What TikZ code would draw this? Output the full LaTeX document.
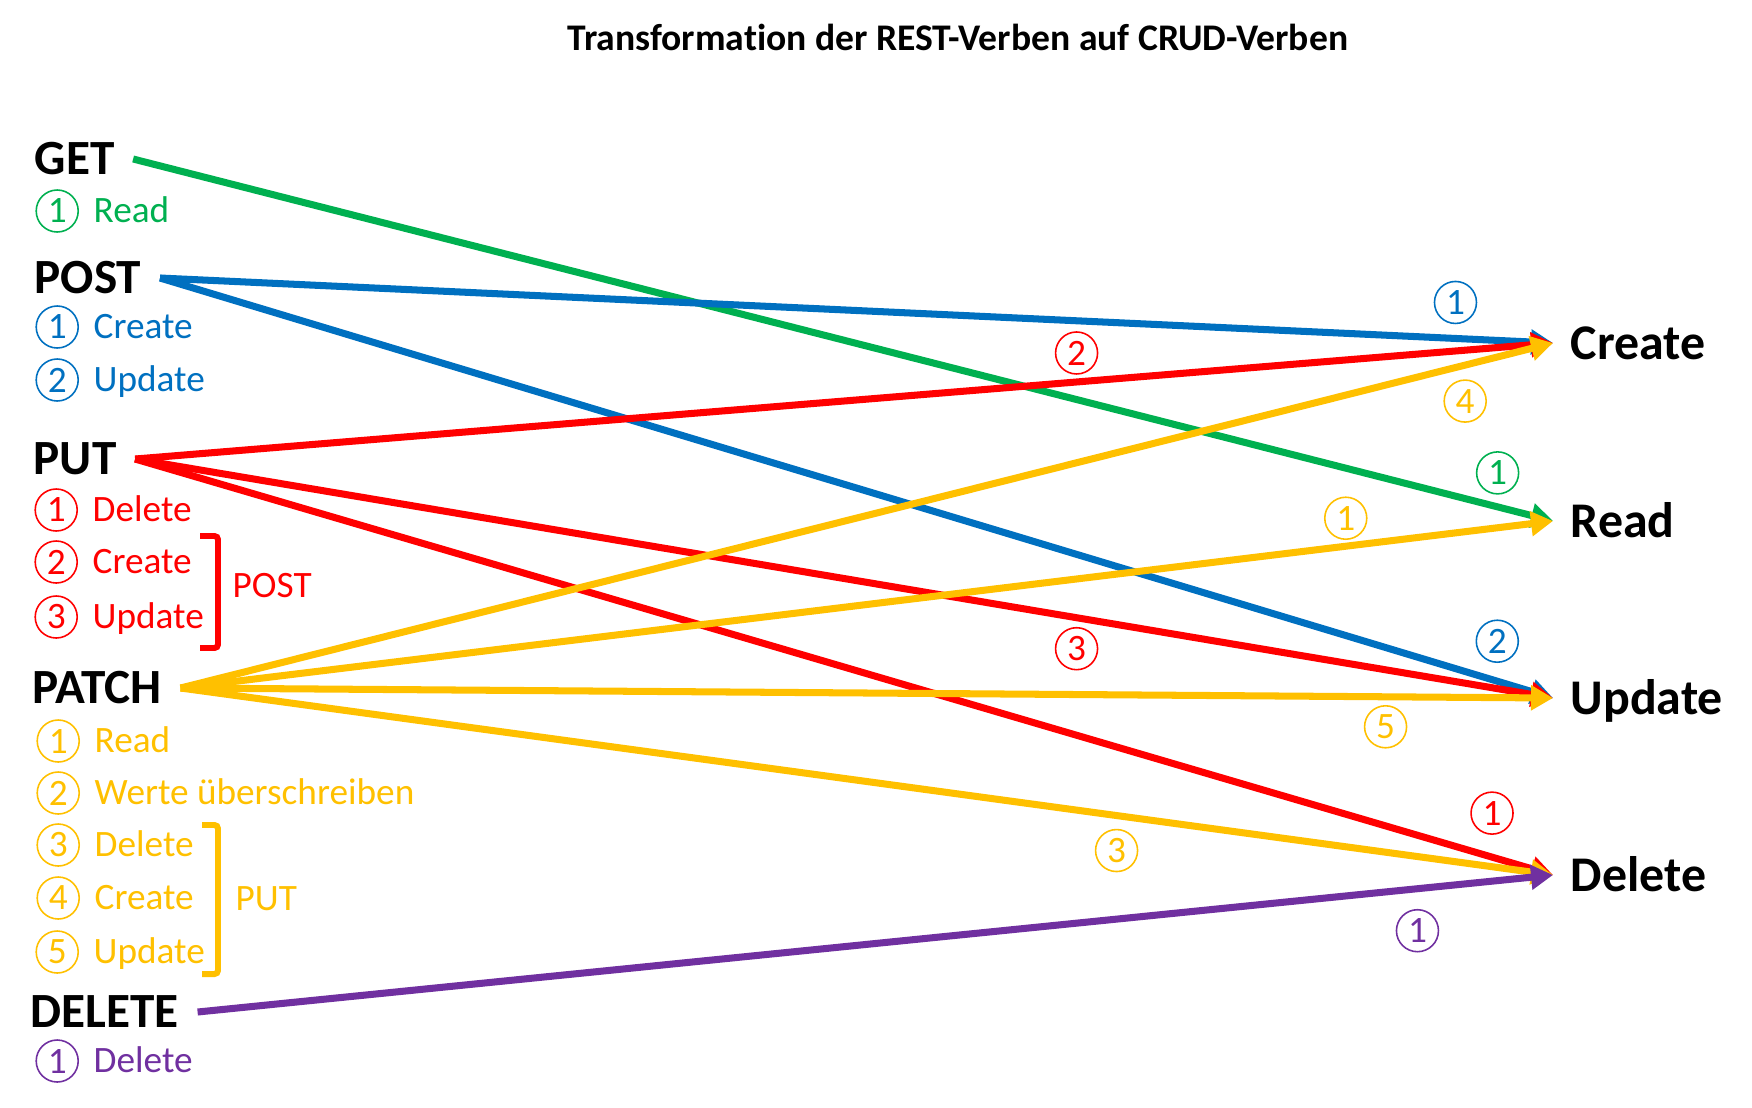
\documentclass[tikz,border=0pt]{standalone}
\usepackage{fontspec}
\setmainfont{Carlito}[Ligatures=CommonOff]
\usetikzlibrary{arrows.meta}
\definecolor{cgreen}{HTML}{00B050}
\definecolor{cblue}{HTML}{0070C0}
\definecolor{cred}{HTML}{FF0000}
\definecolor{cyellow}{HTML}{FFC000}
\definecolor{cpurple}{HTML}{7030A0}
\begin{document}
\begin{tikzpicture}[
	verb/.style={anchor=west, font=\fontsize{14}{17}\selectfont\bfseries, inner xsep=0.18cm, inner ysep=0pt, text height=0.31cm, text depth=0pt},
	crud/.style={anchor=west, font=\fontsize{14.2}{17}\selectfont\bfseries, inner xsep=0.17cm, inner ysep=0pt, text height=0.32cm, text depth=0pt},
	item/.style={anchor=west, font=\fontsize{10.6}{12}\selectfont, inner sep=0pt, text height=0.23cm, text depth=0pt},
	num/.style={circle, draw, line width=0.45pt, minimum size=0.42cm, inner sep=0pt, font=\fontsize{10.6}{12}\selectfont},
	link/.style={line width=2pt, -{Triangle[length=2.2mm,width=2.4mm]}},
	brace/.style={line width=1.7pt, rounded corners=1pt}]
		\useasboundingbox (0,0) rectangle (17.52,11.07);
		\node[font=\fontsize{10.7}{13}\selectfont\bfseries] (title) at (9.58,10.695) {Transformation der REST-Verben auf CRUD-Verben};
		% REST verbs
		\node[verb] (get) at (0.16,9.48) {GET};
		\node[verb] (post) at (0.16,8.29) {POST};
		\node[verb] (put) at (0.15,6.48) {PUT};
		\node[verb] (patch) at (0.14,4.19) {PATCH};
		\node[verb] (del) at (0.12,0.95) {DELETE};
		% CRUD verbs
		\node[crud] (create) at (15.53,7.64) {Create};
		\node[crud] (read) at (15.53,5.86) {Read};
		\node[crud] (update) at (15.53,4.09) {Update};
		\node[crud] (delete) at (15.53,2.32) {Delete};
		% steps
		\node[item, cgreen, label={[num, cgreen, label distance=0.14cm]left:1}] (get1) at (0.93,8.96) {Read};
		\node[item, cblue, label={[num, cblue, label distance=0.14cm]left:1}] (post1) at (0.93,7.80) {Create};
		\node[item, cblue, label={[num, cblue, label distance=0.14cm]left:2}] (post2) at (0.93,7.27) {Update};
		\node[item, cred, label={[num, cred, label distance=0.14cm]left:1}] (put1) at (0.92,5.97) {Delete};
		\node[item, cred, label={[num, cred, label distance=0.14cm]left:2}] (put2) at (0.92,5.45) {Create};
		\node[item, cred, label={[num, cred, label distance=0.14cm]left:3}] (put3) at (0.92,4.90) {Update};
		\node[item, cyellow, label={[num, cyellow, label distance=0.14cm]left:1}] (patch1) at (0.94,3.66) {Read};
		\node[item, cyellow, label={[num, cyellow, label distance=0.14cm]left:2}] (patch2) at (0.94,3.14) {Werte überschreiben};
		\node[item, cyellow, label={[num, cyellow, label distance=0.14cm]left:3}] (patch3) at (0.94,2.62) {Delete};
		\node[item, cyellow, label={[num, cyellow, label distance=0.14cm]left:4}] (patch4) at (0.94,2.09) {Create};
		\node[item, cyellow, label={[num, cyellow, label distance=0.14cm]left:5}] (patch5) at (0.93,1.55) {Update};
		\node[item, cpurple, label={[num, cpurple, label distance=0.14cm]left:1}] (del1) at (0.93,0.46) {Delete};
		% brackets
		\draw[brace, cred] (2.00,5.71) -- (2.18,5.71) -- (2.18,4.59) -- (2.00,4.59);
		\node[item, cred] (postnote) at (2.32,5.21) {POST};
		\draw[brace, cyellow] (2.02,2.82) -- (2.18,2.82) -- (2.18,1.33) -- (2.02,1.33);
		\node[item, cyellow] (putnote) at (2.35,2.08) {PUT};
		% arrows
		\draw[link, cgreen] (get.east) -- node[num, pos=0.961, yshift=0.34cm]{1} (read.west);
		\draw[link, cblue] (post.east) -- node[num, pos=0.930, yshift=0.36cm]{1} (create.west);
		\draw[link, cblue] (post.east) -- node[num, pos=0.960, yshift=0.40cm]{2} (update.west);
		\draw[link, cred] (put.east) -- node[num, pos=0.664, yshift=0.29cm]{2} (create.west);
		\draw[link, cred] (put.east) -- node[num, pos=0.664, yshift=-0.31cm]{3} (update.west);
		\draw[link, cred] (put.east) -- node[num, pos=0.957, yshift=0.44cm]{1} (delete.west);
		\draw[link, cyellow] (patch.east) -- node[num, pos=0.936, yshift=-0.36cm]{4} (create.west);
		\draw[link, cyellow] (patch.east) -- node[num, pos=0.849, yshift=0.28cm]{1} (read.west);
		\draw[link, cyellow] (patch.east) -- node[num, pos=0.878, yshift=-0.30cm]{5} (update.west);
		\draw[link, cyellow] (patch.east) -- node[num, pos=0.682, yshift=-0.35cm]{3} (delete.west);
		\draw[link, cpurple] (del.east) -- node[num, pos=0.900, yshift=-0.42cm]{1} (delete.west);
\end{tikzpicture}
\end{document}
